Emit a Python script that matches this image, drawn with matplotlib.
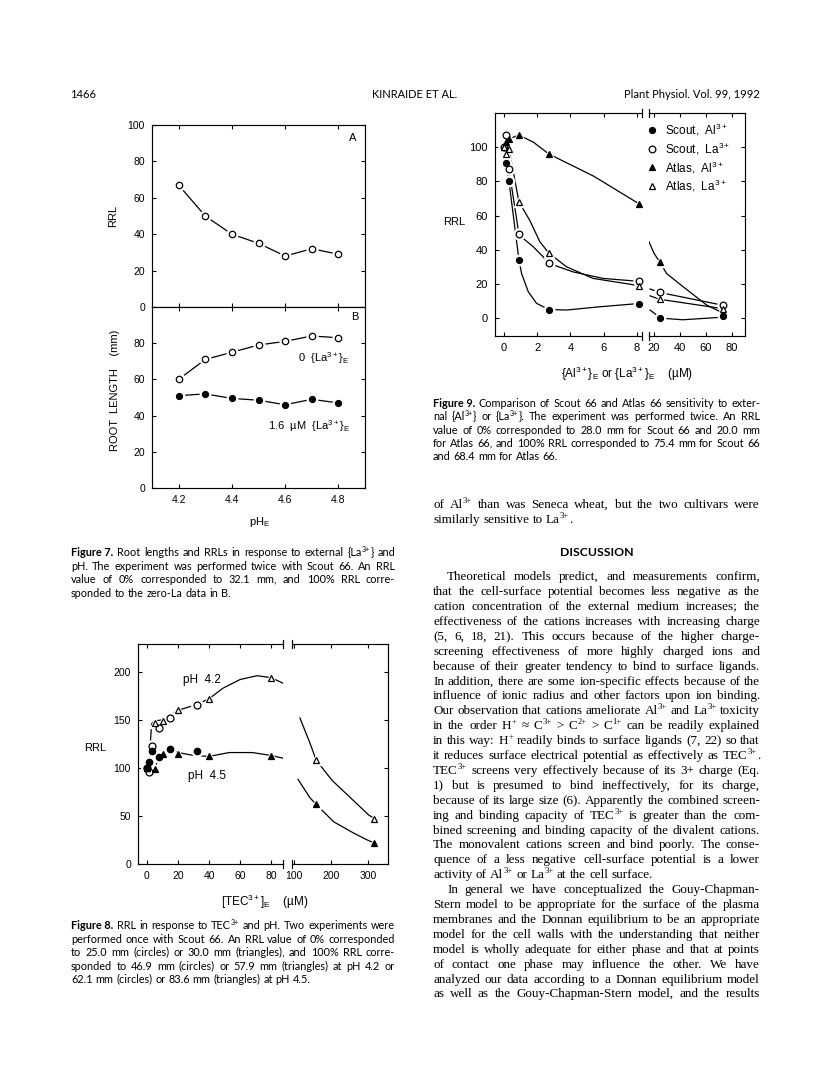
import math
import re
import matplotlib
matplotlib.use('Agg')
import matplotlib.pyplot as plt
from matplotlib.lines import Line2D
from matplotlib.font_manager import FontProperties

W, H = 816, 1073

plt.rcParams['font.family'] = ['Liberation Sans', 'DejaVu Sans']
plt.rcParams['mathtext.fontset'] = 'custom'
plt.rcParams['mathtext.rm'] = 'Liberation Sans'
plt.rcParams['mathtext.it'] = 'Liberation Sans:italic'
plt.rcParams['axes.linewidth'] = 0.85
plt.rcParams['xtick.direction'] = 'in'
plt.rcParams['ytick.direction'] = 'in'
plt.rcParams['xtick.major.size'] = 3
plt.rcParams['ytick.major.size'] = 3
plt.rcParams['xtick.major.width'] = 0.8
plt.rcParams['ytick.major.width'] = 0.8

# ---------------- data ----------------
# Figure 7
ph = [4.2, 4.3, 4.4, 4.5, 4.6, 4.7, 4.8]
rrl7 = [67, 50, 40, 35, 28, 32, 29]
root_no_la = [60, 71, 75, 79, 81, 84, 83]
root_la16 = [51, 52, 49.5, 48.5, 46, 49, 47]

# Figure 8 (TEC3+, uM)
tec_circ = [0, 1.5, 3, 7.5, 15, 32]
circ_ph42 = [100, 96, 123, 142, 152, 166]
circ_ph45 = [100, 106, 118, 111, 120, 118]
tec_tri = [0, 5, 10, 20, 40, 80, 160, 316]
tri_ph42 = [100, 147, 149, 160, 172, 194, 108, 47]
tri_ph45 = [100, 99, 115, 114, 112, 112.5, 62, 22]
# hand drawn curves of figure 8
c42_left_x = [1.3, 3, 5, 10, 15, 20, 26, 32, 40, 49, 60, 71, 80, 88]
c42_left_y = [105, 146, 149, 150, 154, 160, 163, 166, 172, 183, 192, 196, 194, 188]
c42_right_x = [116, 143, 160, 203, 302, 318]
c42_right_y = [152, 126, 108, 87, 51, 47]
c45_left_x = [5, 9, 15, 20, 30, 40, 53, 68, 80, 88]
c45_left_y = [101, 113, 119, 116, 113, 112, 116, 116, 113, 110]
c45_right_x = [111, 143, 160, 207, 262, 298, 316]
c45_right_y = [88, 69, 62, 44, 32, 25, 22]

# Figure 9 ({Al3+} or {La3+}, uM)
conc9 = [0, 0.1, 0.3, 0.9, 2.7, 8.1, 24.3, 72.9]
scout_al = [100, 91, 80, 34, 5, 8.5, 0, 1]
scout_la = [100, 107, 87, 49, 32, 21.5, 15, 7.5]
atlas_al = [100, 103, 105, 107, 96, 67, 33, 3]
atlas_la = [100, 96, 99, 68, 38, 19, 11, 5.5]
# hand drawn curves of figure 9
sal_lx = [0, 0.1, 0.3, 0.9, 1.06, 1.46, 1.96, 2.7, 3.76, 5.76, 8.1]
sal_ly = [100, 91, 80, 34, 26, 15.4, 8.6, 5, 4.7, 6.6, 8.5]
sal_rx = [17, 22, 24.3, 42, 72.9]
sal_ry = [4.7, 1.8, 0, -1, 0.5]
sla_lx = [0.1, 0.3, 0.9, 1.16, 1.76, 2.36, 2.7, 4.16, 5.96, 8.1]
sla_ly = [107, 87, 49, 46.6, 41.7, 35.8, 32, 27, 23.2, 21.5]
sla_rx = [17, 24.3, 72.9]
sla_ry = [17, 15, 7.5]
aal_lx = [0.1, 0.3, 0.9, 1.76, 2.7, 5.4, 8.1]
aal_ly = [103, 105, 107, 103, 96, 83, 67]
aal_rx = [16.2, 20, 24.3, 29.8, 42.5, 60.5, 72.9]
aal_ry = [44.6, 38, 33, 26, 18.3, 7.6, 3]
ala_lx = [0.1, 0.3, 0.9, 1.56, 2.16, 2.7, 3.76, 5.36, 8.1]
ala_ly = [96, 99, 68, 57, 44.6, 38, 30, 23.2, 19]
ala_rx = [17, 24.3, 72.9]
ala_ry = [13, 11, 5.5]

# ---------------- page text (^{..} marks a superscript) ----------------
cap7 = [
    "Figure 7. Root lengths and RRLs in response to external {La^{3+}} and",
    "pH. The experiment was performed twice with Scout 66. An RRL",
    "value of 0% corresponded to 32.1 mm, and 100% RRL corre-",
    "sponded to the zero-La data in B.",
]
cap8 = [
    "Figure 8. RRL in response to TEC^{3+} and pH. Two experiments were",
    "performed once with Scout 66. An RRL value of 0% corresponded",
    "to 25.0 mm (circles) or 30.0 mm (triangles), and 100% RRL corre-",
    "sponded to 46.9 mm (circles) or 57.9 mm (triangles) at pH 4.2 or",
    "62.1 mm (circles) or 83.6 mm (triangles) at pH 4.5.",
]
cap9 = [
    "Figure 9. Comparison of Scout 66 and Atlas 66 sensitivity to exter-",
    "nal {Al^{3+}} or {La^{3+}}. The experiment was performed twice. An RRL",
    "value of 0% corresponded to 28.0 mm for Scout 66 and 20.0 mm",
    "for Atlas 66, and 100% RRL corresponded to 75.4 mm for Scout 66",
    "and 68.4 mm for Atlas 66.",
]
results_tail = [
    "of Al^{3+} than was Seneca wheat, but the two cultivars were",
    "similarly sensitive to La^{3+}.",
]
body = [
    "Theoretical models predict, and measurements confirm,",
    "that the cell-surface potential becomes less negative as the",
    "cation concentration of the external medium increases; the",
    "effectiveness of the cations increases with increasing charge",
    "(5, 6, 18, 21). This occurs because of the higher charge-",
    "screening effectiveness of more highly charged ions and",
    "because of their greater tendency to bind to surface ligands.",
    "In addition, there are some ion-specific effects because of the",
    "influence of ionic radius and other factors upon ion binding.",
    "Our observation that cations ameliorate Al^{3+} and La^{3+} toxicity",
    "in the order H^{+} \u2248 C^{3+} > C^{2+} > C^{1+} can be readily explained",
    "in this way: H^{+} readily binds to surface ligands (7, 22) so that",
    "it reduces surface electrical potential as effectively as TEC^{3+}.",
    "TEC^{3+} screens very effectively because of its 3+ charge (Eq.",
    "1) but is presumed to bind ineffectively, for its charge,",
    "because of its large size (6). Apparently the combined screen-",
    "ing and binding capacity of TEC^{3+} is greater than the com-",
    "bined screening and binding capacity of the divalent cations.",
    "The monovalent cations screen and bind poorly. The conse-",
    "quence of a less negative cell-surface potential is a lower",
    "activity of Al^{3+} or La^{3+} at the cell surface.",
    "In general we have conceptualized the Gouy-Chapman-",
    "Stern model to be appropriate for the surface of the plasma",
    "membranes and the Donnan equilibrium to be an appropriate",
    "model for the cell walls with the understanding that neither",
    "model is wholly adequate for either phase and that at points",
    "of contact one phase may influence the other. We have",
    "analyzed our data according to a Donnan equilibrium model",
    "as well as the Gouy-Chapman-Stern model, and the results",
]

fig = plt.figure(figsize=(W / 100, H / 100), dpi=100)
renderer = fig.canvas.get_renderer()


def box(x0, y0, x1, y1):
    return fig.add_axes([x0 / W, 1 - y1 / H, (x1 - x0) / W, (y1 - y0) / H])


def ftext(x, y, s, **kw):
    return fig.text(x / W, 1 - y / H, s, **kw)


def marks(ax, x, y, marker, filled, ms):
    # white halo first so the curves stop short of the symbols
    ax.plot(x, y, ls='none', marker=marker, ms=ms + 3.2, mfc='white', mec='white',
            zorder=4, clip_on=False)
    ax.plot(x, y, ls='none', marker=marker, ms=ms, mfc='black' if filled else 'white',
            mec='black', mew=0.9, zorder=5, clip_on=False)


def curve(ax, x, y):
    ax.plot(x, y, color='black', lw=0.9, zorder=2)


def break_marks(ax, side):
    xx = 1 if side == 'right' else 0
    for yy in (0, 1):
        ax.plot([xx, xx], [yy - 0.02, yy + 0.02], color='black', lw=0.85,
                transform=ax.transAxes, clip_on=False)


# ---- justified text: one Text per word (superscripts as their own small Text) ----
SUP = re.compile(r'\^\{(.*?)\}')


def line_words(line, bold_fig):
    w = line.split()
    out = [(x, False) for x in w]
    if bold_fig and w[0] == 'Figure':
        out = [(w[0] + ' ' + w[1], True)] + out[2:]
    return out


def piece(s, sup, bold, row, family, size):
    em = size * 100 / 72
    sz = size * 0.66 if sup else size
    r = row - round(0.36 * em) if sup else row
    prop = FontProperties(family=family, size=sz, weight='bold' if bold else 'normal')
    # keep every piece on one pixel baseline (Agg rounds each bitmap)
    _, hh, dd = renderer.get_text_width_height_descent(s, prop, ismath=False)
    yy = r + (math.floor(hh) - math.floor(hh - dd)) - dd
    return fig.text(0, (H - yy) / H, s, fontproperties=prop, ha='left', va='baseline')


def put_line(line, x0, x1, yc, family, size, justify, bold_fig=False):
    em = size * 100 / 72
    row = round(yc + 0.32 * em)
    words = []
    for w, b in line_words(line, bold_fig):
        parts = SUP.split(w)
        ts = [piece(p, k % 2 == 1, b, row, family, size) for k, p in enumerate(parts) if p]
        ws = [t.get_window_extent(renderer).width for t in ts]
        words.append((ts, ws))
    total = sum(sum(ws) for ts, ws in words)
    if justify and len(words) > 1:
        gap = (x1 - x0 - total) / (len(words) - 1)
    else:
        gap = 0.26 * em
    x = x0
    for ts, ws in words:
        for t, d in zip(ts, ws):
            t.set_x(x / W)
            x += d
        x += gap
    return [t for ts, ws in words for t in ts], x - gap - x0


def fit(lines, width, family, base, ragged, indents, bold_fig=False):
    best = 99
    for i, line in enumerate(lines):
        if i in ragged:
            continue
        ts, nat = put_line(line, 0, 5000, 0, family, base, False, bold_fig and i == 0)
        for t in ts:
            t.remove()
        best = min(best, base * (width - indents.get(i, 0)) / nat)
    return best


def block(lines, x0, x1, y0, dy, family, size, ragged=(), indents=None, bold_fig=False):
    indents = indents or {}
    for i, line in enumerate(lines):
        put_line(line, x0 + indents.get(i, 0), x1, y0 + i * dy, family, size,
                 i not in ragged, bold_fig and i == 0)


# ---------------- header ----------------
ftext(70, 95, '1466', family='Lato', fontsize=8, ha='left', va='center')
ftext(415, 95, 'KINRAIDE ET AL.', family='Lato', fontsize=8, ha='center', va='center')
ftext(760, 95, 'Plant Physiol. Vol. 99, 1992', family='Lato', fontsize=8,
      ha='right', va='center')

# ---------------- Figure 7 ----------------
axA = box(152, 125, 365, 307)
axB = box(152, 307, 365, 488)
for ax in (axA, axB):
    ax.set_xlim(4.1, 4.9)
    ax.set_ylim(0, 100)
    ax.set_xticks([4.2, 4.4, 4.6, 4.8])
    ax.set_yticks([0, 20, 40, 60, 80, 100])
    ax.tick_params(top=True, right=True, labelsize=7.5, pad=5)
axA.tick_params(labelbottom=False)
axB.set_yticklabels(['0', '20', '40', '60', '80', ''])
curve(axA, ph, rrl7)
marks(axA, ph, rrl7, 'o', False, 4.6)
curve(axB, ph, root_no_la)
marks(axB, ph, root_no_la, 'o', False, 4.6)
curve(axB, ph, root_la16)
marks(axB, ph, root_la16, 'o', True, 4.3)
axA.text(0.94, 0.93, 'A', transform=axA.transAxes, ha='center', va='center', fontsize=8)
axB.text(0.95, 0.945, 'B', transform=axB.transAxes, ha='center', va='center', fontsize=8)
axB.text(4.647, 72, '0  {La$\\mathregular{^{3+}}$}$\\mathregular{_E}$', ha='left',
         va='center', fontsize=8)
axB.text(4.535, 34, '1.6  \u00b5M  {La$\\mathregular{^{3+}}$}$\\mathregular{_E}$',
         ha='left', va='center', fontsize=8)
ftext(113, 216, 'RRL', rotation=90, ha='center', va='center', fontsize=8)
ftext(115, 390, 'ROOT  LENGTH    (mm)', rotation=90, ha='center', va='center', fontsize=8)
ftext(260, 522, 'pH$\\mathregular{_E}$', ha='center', va='center', fontsize=8)

# ---------------- Figure 8 ----------------
ax8l = box(138, 644, 283, 864)
ax8r = box(292, 644, 388, 864)
ax8l.set_xlim(-5.8, 87.7)
ax8r.set_xlim(94.6, 354)
for ax in (ax8l, ax8r):
    ax.set_ylim(0, 229)
    ax.set_yticks([0, 50, 100, 150, 200])
ax8l.spines['right'].set_visible(False)
ax8r.spines['left'].set_visible(False)
ax8l.set_xticks([0, 20, 40, 60, 80])
ax8r.set_xticks([100, 200, 300])
ax8l.tick_params(top=True, right=False, labelsize=7.5, pad=5)
ax8r.tick_params(top=True, left=False, right=True, labelleft=False, labelsize=7.5, pad=5)
break_marks(ax8l, 'right')
break_marks(ax8r, 'left')
curve(ax8l, c42_left_x, c42_left_y)
curve(ax8r, c42_right_x, c42_right_y)
curve(ax8l, c45_left_x, c45_left_y)
curve(ax8r, c45_right_x, c45_right_y)
ntl = sum(1 for v in tec_tri if v < 90)
marks(ax8l, tec_circ, circ_ph42, 'o', False, 5)
marks(ax8l, tec_circ, circ_ph45, 'o', True, 4.6)
marks(ax8l, tec_tri[:ntl], tri_ph42[:ntl], '^', False, 4.6)
marks(ax8l, tec_tri[:ntl], tri_ph45[:ntl], '^', True, 4.2)
marks(ax8r, tec_tri[ntl:], tri_ph42[ntl:], '^', False, 4.6)
marks(ax8r, tec_tri[ntl:], tri_ph45[ntl:], '^', True, 4.2)
ax8l.text(35.5, 192, 'pH  4.2', ha='center', va='center', fontsize=8.5)
ax8l.text(38.7, 92, 'pH  4.5', ha='center', va='center', fontsize=8.5)
ftext(95, 748, 'RRL', ha='center', va='center', fontsize=8)
ftext(265, 902, '[TEC$\\mathregular{^{3+}}$]$\\mathregular{_E}$    (\u00b5M)',
      ha='center', va='center', fontsize=8.5)

# ---------------- Figure 9 ----------------
ax9l = box(495, 113, 642, 336)
ax9r = box(649, 113, 745, 336)
ax9l.set_xlim(-0.54, 8.3)
ax9r.set_xlim(16.2, 90)
for ax in (ax9l, ax9r):
    ax.set_ylim(-10.5, 120)
    ax.set_yticks([0, 20, 40, 60, 80, 100])
ax9l.spines['right'].set_visible(False)
ax9r.spines['left'].set_visible(False)
ax9l.set_xticks([0, 2, 4, 6, 8])
ax9r.set_xticks([20, 40, 60, 80])
ax9l.tick_params(top=True, right=False, labelsize=8, pad=5)
ax9r.tick_params(top=True, left=False, right=True, labelleft=False, labelsize=8, pad=5)
break_marks(ax9l, 'right')
break_marks(ax9r, 'left')
for lx, ly, rx, ry in [(sal_lx, sal_ly, sal_rx, sal_ry), (sla_lx, sla_ly, sla_rx, sla_ry),
                       (aal_lx, aal_ly, aal_rx, aal_ry), (ala_lx, ala_ly, ala_rx, ala_ry)]:
    curve(ax9l, lx, ly)
    curve(ax9r, rx, ry)
n9 = sum(1 for v in conc9 if v < 10)
styles9 = [(scout_al, 'o', True, 4.3), (scout_la, 'o', False, 4.8),
           (atlas_al, '^', True, 4.0), (atlas_la, '^', False, 4.4)]
for vals, mk, fl, ms in styles9:
    marks(ax9l, conc9[:n9], vals[:n9], mk, fl, ms)
    marks(ax9r, conc9[n9:], vals[n9:], mk, fl, ms)
legend_labels = ['Scout,  Al$\\mathregular{^{3+}}$', 'Scout,  La$\\mathregular{^{3+}}$',
                 'Atlas,  Al$\\mathregular{^{3+}}$', 'Atlas,  La$\\mathregular{^{3+}}$']
for k, ((vals, mk, fl, ms), lab) in enumerate(zip(styles9, legend_labels)):
    yy = 130 + k * 18.7
    fig.add_artist(Line2D([652 / W], [1 - yy / H], marker=mk, ms=ms, ls='none',
                          mfc='black' if fl else 'white', mec='black', mew=0.9,
                          transform=fig.transFigure))
    ftext(665, yy, lab, ha='left', va='center', fontsize=8.5)
ftext(454, 222, 'RRL', ha='center', va='center', fontsize=8)
ftext(627, 374, '{Al$\\mathregular{^{3+}}$}$\\mathregular{_E}$ or '
      '{La$\\mathregular{^{3+}}$}$\\mathregular{_E}$    (\u00b5M)',
      ha='center', va='center', fontsize=8.5)

# ---------------- captions and body text ----------------
CAP = 'Lato'
SERIF = 'Liberation Serif'
cap_size = min(fit(cap7, 324, CAP, 8, {3}, {}, True),
               fit(cap8, 324, CAP, 8, {4}, {}, True),
               fit(cap9, 327, CAP, 8, {4}, {}, True), 7.8)
block(cap7, 71, 395, 553, 13.4, CAP, cap_size, ragged={3}, bold_fig=True)
block(cap8, 71, 395, 926, 13.35, CAP, cap_size, ragged={4}, bold_fig=True)
block(cap9, 433, 760, 403.5, 13.3, CAP, cap_size, ragged={4}, bold_fig=True)

ind = {0: 14, 21: 14}
body_size = min(fit(body, 327, SERIF, 10, {20}, ind), 10.2)
block(results_tail, 433, 760, 504, 15, SERIF, body_size, ragged={1})
ftext(596.5, 552, 'DISCUSSION', family=CAP, fontweight='bold', fontsize=8.8,
      ha='center', va='center')
block(body, 433, 760, 576, 14.9, SERIF, body_size, ragged={20}, indents=ind)

fig.savefig('out.png', dpi=100, facecolor='white')
